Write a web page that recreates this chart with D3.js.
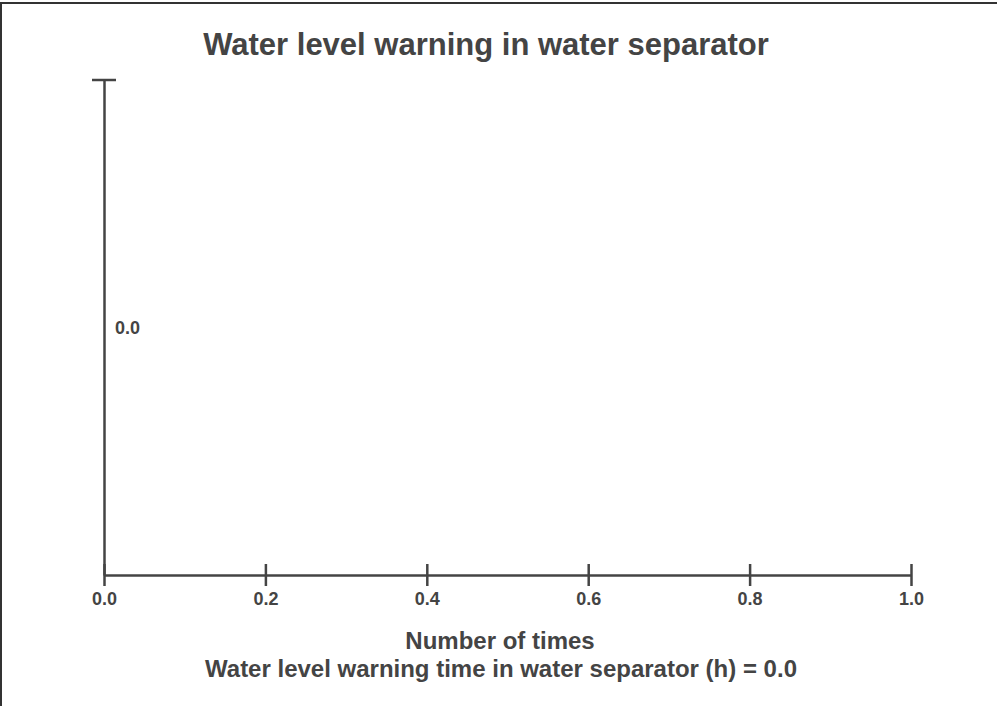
<!DOCTYPE html>
<html>
<head>
<meta charset="utf-8">
<script src="https://cdn.jsdelivr.net/npm/d3@7"></script>
<style>
  body { margin: 0; background: #fff; }
  text { font-family: "Liberation Sans", Arial, sans-serif; font-weight: bold; fill: #444; }
</style>
</head>
<body>
<div id="chart"></div>
<script>
// chart values
const titleText = "Water level warning in water separator";
const xLabel = "Number of times";
const summaryName = "Water level warning time in water separator (h)";
const warningHours = [0.0];
const xTicks = [0.0, 0.2, 0.4, 0.6, 0.8, 1.0];
const yTicks = [0.0];
const yDomain = [-1, 1];

const width = 997, height = 706;
const margin = { left: 104, right: 86, top: 80, bottom: 131 };

const svg = d3.select("#chart")
    .append("svg")
    .attr("width", width)
    .attr("height", height);

// frame (only top and left edges are visible in the window)
svg.append("rect")
    .attr("x", 1).attr("y", 3)
    .attr("width", width + 50).attr("height", height + 50)
    .style("fill", "none")
    .style("stroke", "#333")
    .style("stroke-width", 2);

const x = d3.scaleLinear()
    .domain(d3.extent(xTicks))
    .range([margin.left, width - margin.right]);

const y = d3.scaleLinear()
    .domain(yDomain)
    .range([height - margin.bottom, margin.top]);

// x axis, ticks crossing the line
const xAxis = svg.append("g")
    .attr("transform", `translate(0,${y.range()[0]})`)
    .call(d3.axisBottom(x)
        .tickValues(xTicks)
        .tickSizeInner(11)
        .tickSizeOuter(0)
        .tickPadding(6)
        .tickFormat(d3.format(".1f")));
xAxis.selectAll(".tick line").attr("y1", -11);
xAxis.selectAll("text").style("font-size", "18px");

// y axis
const yAxis = svg.append("g")
    .attr("transform", `translate(${x.range()[0]},0)`)
    .call(d3.axisRight(y)
        .tickValues(yTicks)
        .tickSize(0)
        .tickPadding(11)
        .tickFormat(d3.format(".1f")));
yAxis.selectAll("text").style("font-size", "18px");
yAxis.append("line")
    .attr("x1", -12).attr("x2", 12)
    .attr("y1", y(yDomain[1])).attr("y2", y(yDomain[1]));

svg.selectAll(".domain, .tick line, g > line")
    .style("stroke", "#444")
    .style("stroke-width", 2.5);
svg.selectAll(".domain").style("fill", "none");

svg.append("text")
    .attr("x", 486).attr("y", 55)
    .attr("text-anchor", "middle")
    .style("font-size", "31px")
    .text(titleText);

svg.append("text")
    .attr("x", 500).attr("y", 649)
    .attr("text-anchor", "middle")
    .style("font-size", "24px")
    .text(xLabel);

svg.append("text")
    .attr("x", 501).attr("y", 677)
    .attr("text-anchor", "middle")
    .style("font-size", "24px")
    .text(`${summaryName} = ${d3.format(".1f")(d3.sum(warningHours))}`);
</script>
</body>
</html>
